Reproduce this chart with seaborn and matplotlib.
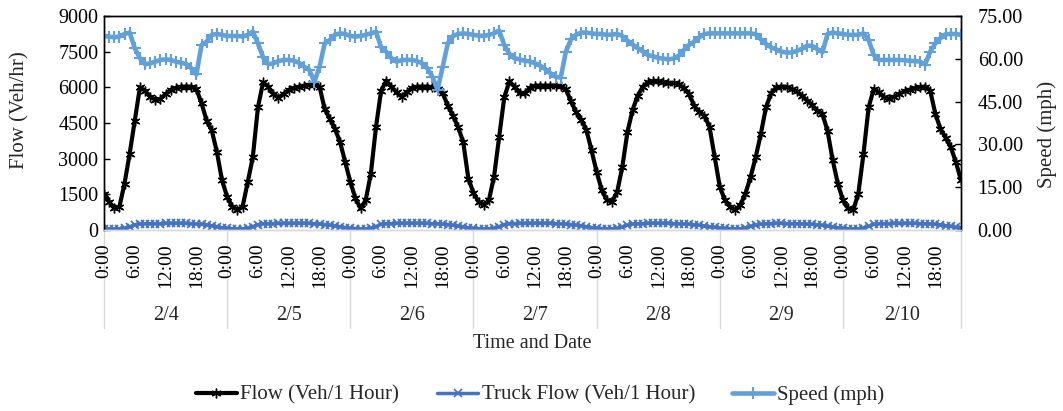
import numpy as np
import pandas as pd
import matplotlib
matplotlib.use("Agg")
import matplotlib.pyplot as plt
import seaborn as sns
from matplotlib.transforms import blended_transform_factory

# ---------------- data ----------------
dates = ["2/4", "2/5", "2/6", "2/7", "2/8", "2/9", "2/10"]
hour_ticks = [0, 6, 12, 18]
hour_labels = ["0:00", "6:00", "12:00", "18:00"]

flow_0204 = [1535, 1186, 907, 977, 1953, 3209, 4605, 6000, 5860, 5609, 5470, 5512,
             5721, 5889, 5972, 6028, 6028, 6028, 5930, 5330, 4605, 4186, 3279, 2093]
flow_0205 = [1395, 977, 837, 977, 2000, 3070, 5163, 6209, 6028, 5721, 5553, 5721,
             5889, 5972, 6028, 6070, 6112, 6112, 6028, 5093, 4675, 4257, 3698, 2860]
flow_0206 = [2023, 1325, 907, 1256, 2372, 4326, 5860, 6280, 6028, 5791, 5609, 5791,
             5972, 6028, 6028, 6028, 6000, 5930, 5749, 5233, 4814, 4326, 3698, 2163]
flow_0207 = [1563, 1186, 1047, 1256, 2233, 3907, 5582, 6251, 6028, 5749, 5763, 5980,
             6070, 6070, 6070, 6070, 6070, 6042, 5917, 5414, 4954, 4633, 4214, 3349]
flow_0208 = [2442, 1674, 1256, 1186, 1605, 2651, 4117, 5051, 5651, 6028, 6209, 6251,
             6251, 6209, 6167, 6180, 6139, 5972, 5721, 5233, 4954, 4814, 4326, 3070]
flow_0209 = [1814, 1256, 977, 837, 1047, 1535, 2233, 3070, 4047, 5163, 5749, 6000,
             6028, 6014, 5930, 5833, 5651, 5442, 5261, 5000, 4884, 4158, 2930, 1953]
flow_0210 = [1256, 907, 837, 1535, 3209, 5163, 5930, 5800, 5582, 5512, 5609, 5721,
             5833, 5903, 5958, 6000, 6028, 5860, 4884, 4257, 3880, 3488, 2860, 2093]

truck_0204 = [60, 50, 45, 50, 70, 130, 220, 260, 265, 270, 270, 270,
              275, 275, 280, 280, 275, 270, 255, 235, 210, 180, 140, 100]
truck_0205 = [70, 55, 50, 50, 70, 140, 230, 265, 270, 270, 275, 275,
              275, 280, 280, 280, 275, 265, 250, 230, 205, 175, 140, 105]
truck_0206 = [75, 60, 50, 50, 75, 145, 235, 265, 270, 275, 275, 280,
              280, 280, 280, 275, 270, 265, 250, 230, 200, 170, 135, 100]
truck_0207 = [70, 55, 50, 50, 70, 140, 230, 265, 270, 275, 275, 275,
              280, 280, 280, 275, 270, 265, 250, 230, 205, 175, 140, 105]
truck_0208 = [75, 60, 50, 50, 65, 120, 200, 250, 265, 270, 275, 280,
              280, 280, 275, 270, 265, 255, 240, 220, 195, 170, 140, 110]
truck_0209 = [85, 65, 55, 50, 55, 90, 150, 210, 250, 265, 270, 275,
              275, 270, 270, 265, 260, 250, 235, 215, 190, 165, 130, 95]
truck_0210 = [70, 55, 50, 55, 80, 150, 235, 265, 270, 270, 275, 275,
              275, 275, 275, 270, 265, 255, 240, 215, 185, 150, 110, 70]

speed_0204 = [68.0, 67.8, 67.5, 67.8, 68.7, 69.2, 63.7, 60.2, 58.1, 58.4, 59.0, 59.6,
              59.8, 59.6, 59.0, 58.6, 58.2, 56.7, 54.5, 64.8, 66.0, 68.4, 68.7, 68.4]
speed_0205 = [68.0, 68.0, 68.0, 67.8, 68.4, 69.5, 65.4, 60.5, 58.1, 58.4, 59.2, 59.6,
              59.6, 59.3, 58.6, 57.2, 56.1, 52.0, 57.2, 65.4, 66.6, 68.4, 68.9, 68.7]
speed_0206 = [68.0, 67.8, 68.0, 68.4, 68.9, 69.5, 64.0, 62.5, 60.2, 59.0, 59.6, 59.6,
              59.6, 59.2, 58.4, 56.7, 53.7, 49.1, 57.2, 65.4, 68.0, 68.7, 68.9, 68.7]
speed_0207 = [68.4, 68.1, 68.0, 68.4, 68.9, 69.9, 64.8, 61.7, 60.2, 59.8, 59.3, 59.1,
              58.4, 57.6, 56.4, 54.9, 53.7, 53.4, 62.5, 66.8, 68.4, 69.2, 69.2, 68.9]
speed_0208 = [68.7, 68.7, 68.4, 68.5, 68.7, 68.0, 66.4, 65.0, 63.7, 62.6, 61.3, 60.9,
              60.3, 60.1, 59.8, 60.1, 61.1, 63.1, 64.8, 66.0, 67.5, 68.7, 68.9, 68.9]
speed_0209 = [68.9, 68.9, 68.9, 68.9, 68.9, 68.9, 68.9, 68.6, 66.8, 65.2, 64.0, 63.3,
              62.5, 62.2, 62.2, 62.8, 63.5, 64.6, 64.5, 63.4, 62.3, 68.7, 69.2, 68.9]
speed_0210 = [68.7, 68.4, 68.4, 68.4, 68.9, 66.6, 61.3, 59.6, 59.6, 59.6, 59.6, 59.6,
              59.5, 59.3, 59.2, 59.0, 58.0, 62.5, 65.4, 67.2, 68.6, 68.7, 68.7, 68.4]

flow = (flow_0204 + flow_0205 + flow_0206 + flow_0207 + flow_0208 + flow_0209 + flow_0210)
truck = (truck_0204 + truck_0205 + truck_0206 + truck_0207 + truck_0208 + truck_0209 + truck_0210)
speed = (speed_0204 + speed_0205 + speed_0206 + speed_0207 + speed_0208 + speed_0209 + speed_0210)

df = pd.DataFrame({"t": np.arange(len(flow)), "flow": flow, "truck": truck, "speed": speed})
n = len(df)

# ---------------- style ----------------
sns.set_theme(style="white")
plt.rcParams["font.family"] = ["Liberation Serif", "DejaVu Serif"]
FS = 14.5

W, H = 1063, 411
fig = plt.figure(figsize=(W / 100, H / 100), dpi=100)
L, R, T, B = 104, 961, 16, 230
ax = fig.add_axes([L / W, 1 - B / H, (R - L) / W, (B - T) / H])
ax2 = ax.twinx()

c_flow, c_truck, c_speed = "black", "#4472C4", "#62A0D9"

sns.lineplot(data=df, x="t", y="flow", ax=ax, color=c_flow, linewidth=3.0,
             marker=(6, 2, 0), markersize=7, markeredgewidth=1.0,
             markeredgecolor=c_flow, label="Flow (Veh/1 Hour)", zorder=3)
sns.lineplot(data=df, x="t", y="truck", ax=ax, color=c_truck, linewidth=2.5,
             marker="x", markersize=6, markeredgewidth=1.2,
             markeredgecolor=c_truck, label="Truck Flow (Veh/1 Hour)", zorder=2)
sns.lineplot(data=df, x="t", y="speed", ax=ax2, color=c_speed, linewidth=3.3,
             marker="+", markersize=8, markeredgewidth=1.5,
             markeredgecolor=c_speed, label="Speed (mph)", zorder=2)

ax.set_xlim(0, n - 1)
ax.set_ylim(0, 9000)
ax2.set_ylim(0, 75)
ax.set_yticks(np.arange(0, 9001, 1500))
ax2.set_yticks(np.arange(0, 76, 15))
ax2.set_yticklabels([f"{v:.2f}" for v in np.arange(0, 76, 15)])

xt = [d * 24 + h for d in range(len(dates)) for h in hour_ticks]
xl = [hour_labels[i] for d in range(len(dates)) for i in range(len(hour_ticks))]
ax.set_xticks(xt)
ax.set_xticklabels(xl, rotation=90)
ax.tick_params(axis="x", length=0, pad=9.5, labelsize=14, colors="black")
ax.tick_params(axis="y", direction="in", length=4, width=1, pad=4,
               labelsize=FS, colors="black", left=True)
ax2.tick_params(axis="y", direction="in", length=4, width=1, pad=12,
                labelsize=FS, colors="black", right=True)

ax.set_xlabel("")
ax.set_ylabel("")
ax2.set_ylabel("")

for a in (ax, ax2):
    for s in ("left", "right", "top"):
        a.spines[s].set_color("black")
        a.spines[s].set_linewidth(1.0)
    a.spines["bottom"].set_color("#D9D9D9")
    a.spines["bottom"].set_linewidth(1.0)
    a.grid(False)

# day separators & date labels
trans = blended_transform_factory(ax.transData, ax.transAxes)
bounds = [d * 24 for d in range(len(dates))] + [n - 1]
sep_bottom = -(328 - B) / (B - T)
for b in bounds:
    ax.plot([b, b], [0, sep_bottom], transform=trans, color="#D9D9D9",
            linewidth=1.0, clip_on=False, zorder=0)
date_y = -(315 - B) / (B - T)
for i, d in enumerate(dates):
    ax.text((bounds[i] + bounds[i + 1]) / 2, date_y, d, transform=trans,
            ha="center", va="center", fontsize=FS)

fig.text((L + R) / 2 / W, 1 - 343 / H, "Time and Date", ha="center", va="center", fontsize=FS)
fig.text(20 / W, 1 - 110 / H, "Flow (Veh/hr)", rotation=90, ha="center", va="center", fontsize=15)
fig.text(1047 / W, 1 - 134 / H, "Speed (mph)", rotation=90, ha="center", va="center", fontsize=15)

# legend
h1, l1 = ax.get_legend_handles_labels()
h2, l2 = ax2.get_legend_handles_labels()
for a in (ax, ax2):
    if a.get_legend() is not None:
        a.get_legend().remove()
fig.legend(h1 + h2, l1 + l2, loc="center", bbox_to_anchor=(540 / W, 1 - 395 / H),
           ncol=3, frameon=False, fontsize=15, handlelength=2.0,
           handletextpad=0.15, columnspacing=1.8)

fig.savefig("out.png", dpi=100)
